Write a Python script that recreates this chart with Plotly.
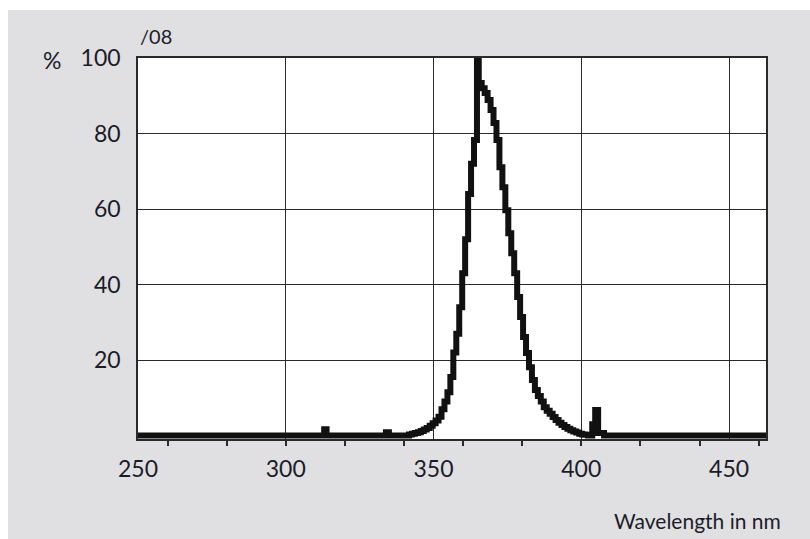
import plotly.graph_objects as go

# Spectral power distribution (relative %, step data, left edge of each step)
wavelength_nm = [
    250, 313.0, 313.8, 333.9, 334.9,
    341.7, 342.7, 343.7, 344.7, 345.7, 346.7, 347.7, 348.7, 349.7, 350.7,
    351.7, 352.7, 353.7, 354.7, 355.7, 356.7, 357.7, 358.7, 359.7, 360.7,
    361.7, 362.7, 363.7, 364.7, 365.3, 366.3, 367.3, 368.3, 369.3, 370.3,
    371.3, 372.3, 373.3, 374.3, 375.3, 376.3, 377.3, 378.3, 379.3, 380.3,
    381.3, 382.3, 383.3, 384.3, 385.3, 386.3, 387.3, 388.3, 389.3, 390.3,
    391.3, 392.3, 393.3, 394.3, 395.3, 396.3, 397.3, 398.3, 399.3, 400.3,
    401.3, 402.3, 403.7, 404.7, 405.7, 407.7, 464,
]
relative_pct = [
    0, 1.7, 0, 0.9, 0,
    0.3, 0.5, 0.7, 0.9, 1.2, 1.6, 2.0, 2.6, 3.3, 4.0,
    5.0, 7.0, 9.0, 11.5, 15.5, 22, 27, 34, 43, 52,
    64, 72, 78.3, 100, 93.4, 92, 90.7, 88.9, 86.2, 82.8,
    78.3, 71.1, 65.8, 59.7, 53.6, 48.3, 43, 36.7, 31.4, 26.1,
    21.9, 18.1, 14.7, 12.1, 10.5, 9.0, 7.5, 6.6, 5.8, 4.9,
    4.1, 3.4, 2.8, 2.3, 1.8, 1.4, 1.1, 0.8, 0.5, 0.3,
    0.2, 0, 3.0, 6.8, 0.7, 0, 0,
]

x_label_vals = [250, 300, 350, 400, 450]
x_tick_marks = [250, 260, 280, 300, 320, 340, 360, 380, 400, 420, 440, 460]
y_label_vals = [20, 40, 60, 80, 100]

x_range = [250, 462.5]
y_range = [-0.9, 100]

FONT = "Lato, Liberation Sans, sans-serif"
TXT = "#1c1c28"
GRID = "#2a2a2a"

fig = go.Figure()
fig.add_trace(go.Scatter(
    x=wavelength_nm, y=relative_pct, mode="lines",
    line=dict(shape="hv", color="#111111", width=6),
    showlegend=False, hoverinfo="skip",
))

fig.update_layout(
    width=810, height=539,
    margin=dict(l=138, r=44, t=58, b=100),
    paper_bgcolor="#e0e0e2",
    plot_bgcolor="#ffffff",
    font=dict(family=FONT, color=TXT),
    xaxis=dict(
        range=x_range, tickmode="array", tickvals=x_label_vals,
        ticks="inside", ticklen=0, tickcolor="rgba(0,0,0,0)",
        minor=dict(tickmode="array", tickvals=x_tick_marks, ticks="outside",
                   ticklen=5, tickwidth=1.5, tickcolor=GRID, showgrid=False),
        showgrid=True, gridcolor=GRID, gridwidth=1,
        showline=True, linecolor=GRID, linewidth=2, mirror=True,
        zeroline=False, tickfont=dict(size=23, color=TXT, family=FONT),
        ticklabelstandoff=8,
    ),
    yaxis=dict(
        range=y_range, tickmode="array", tickvals=y_label_vals,
        ticks="", showgrid=True, gridcolor=GRID, gridwidth=1,
        showline=True, linecolor=GRID, linewidth=1.5, mirror=True,
        zeroline=False, tickfont=dict(size=23, color=TXT, family=FONT),
        ticklabelstandoff=11,
    ),
    shapes=[
        dict(type="rect", xref="paper", yref="paper", x0=-0.25, x1=1.1,
             y0=1.126, y1=1.2, fillcolor="#ffffff", line=dict(width=0), layer="below"),
        dict(type="rect", xref="paper", yref="paper", x0=-0.25, x1=-0.207,
             y0=-0.3, y1=1.2, fillcolor="#ffffff", line=dict(width=0), layer="below"),
    ],
    annotations=[
        dict(text="%", xref="paper", yref="paper", x=-0.137, y=0.995,
             xanchor="center", yanchor="middle", showarrow=False,
             font=dict(size=23, color=TXT, family=FONT)),
        dict(text="/08", xref="paper", yref="paper", x=0.0, y=1.058,
             xanchor="left", yanchor="middle", showarrow=False,
             font=dict(size=20, color=TXT, family=FONT)),
        dict(text="Wavelength in nm", xref="paper", yref="paper", x=1.027, y=-0.213,
             xanchor="right", yanchor="middle", showarrow=False,
             font=dict(size=21, color=TXT, family=FONT)),
    ],
)

fig.write_html("out.html")
